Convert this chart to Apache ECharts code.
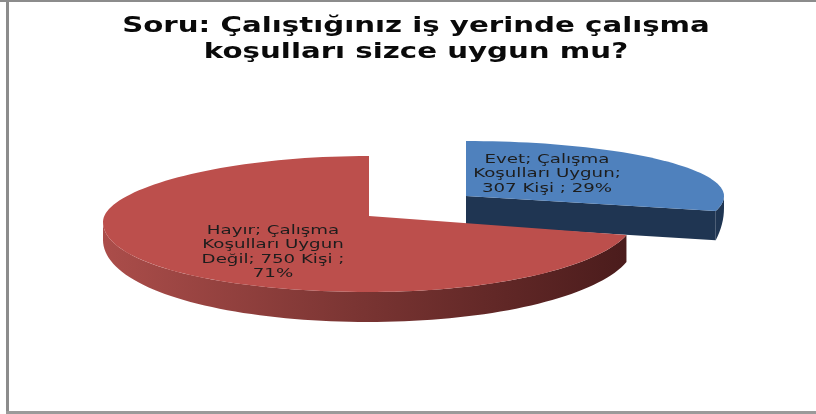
<!DOCTYPE html>
<html>
<head>
<meta charset="utf-8">
<style>
  html, body { margin: 0; padding: 0; background: #fff; }
  #chart { width: 816px; height: 414px; filter: blur(0.6px); }
</style>
<script src="https://cdn.jsdelivr.net/npm/echarts@6/dist/echarts.min.js"></script>
</head>
<body>
<div id="chart"></div>
<script>
var titleText = 'Soru: Çalıştığınız iş yerinde çalışma\nkoşulları sizce uygun mu?';
var categories = ['Evet; Çalışma\nKoşulları Uygun;', 'Hayır; Çalışma\nKoşulları Uygun\nDeğil;'];
var counts = [307, 750];
var percents = ['29%', '71%'];

// 3d look of each slice, the pie is not a real circle so it is drawn by hand
var sliceLook = [
    { cx: 466, cy: 196, rx: 258, ryTop: 55, ryBottom: 60, leftDrop: 0, depthLeft: 12, depthRight: 12, depthFront: 80, cutDepth: 29, labelX: 547, labelY: 174, top: '#4f81bd' },
    { cx: 369, cy: 216, rx: 266, ryTop: 60, ryBottom: 76, leftDrop: 6, depthLeft: 18, depthRight: 26, depthFront: 30, cutDepth: 26, labelX: 273, labelY: 252, top: '#bc4f4c' }
];

var total = counts[0] + counts[1];

function edgePoint(look, deg, down) {
    var a = deg * Math.PI / 180;
    var c = Math.cos(a);
    var s = Math.sin(a);
    var ry = c > 0 ? look.ryTop : look.ryBottom;
    var side = s < 0 ? look.depthLeft : look.depthRight;
    var d = down ? side + (look.depthFront - side) * Math.max(0, -c) : 0;
    var drop = s < 0 ? look.leftDrop * s * s : 0;
    return [look.cx + look.rx * s, look.cy - ry * c + d + drop];
}

function arcPoints(look, from, to, down) {
    var pts = [];
    var n = Math.max(2, Math.ceil(Math.abs(to - from) / 2));
    for (var i = 0; i <= n; i++) {
        pts.push(edgePoint(look, from + (to - from) * i / n, down));
    }
    return pts;
}

function renderSlice(params, api) {
    var i = params.dataIndex;
    var look = sliceLook[i];
    var before = 0;
    for (var k = 0; k < i; k++) before += counts[k];
    var start = before / total * 360;
    var end = (before + api.value(0)) / total * 360;
    var children = [];

    // outer wall, only the front half shows
    var from = Math.max(start, 90);
    var to = Math.min(end, 270);
    var wallFill = i === 0 ? '#1f3552' : new echarts.graphic.LinearGradient(103, 0, 625, 0, [
        { offset: 0, color: '#ab4d4a' },
        { offset: 0.5, color: '#793432' },
        { offset: 1, color: '#4b1c1c' }
    ], true);
    if (to > from) {
        children.push({
            type: 'polygon',
            shape: { points: arcPoints(look, from, to, false).concat(arcPoints(look, to, from, true)) },
            style: { fill: wallFill }
        });
    }
    // cut face that looks towards the viewer
    if (end < 270) {
        var outer = edgePoint(look, end, false);
        var outerLow = edgePoint(look, end, true);
        children.push({
            type: 'polygon',
            shape: { points: [[look.cx, look.cy], outer, outerLow, [look.cx, look.cy + look.cutDepth]] },
            style: { fill: wallFill }
        });
    }
    // top face
    children.push({
        type: 'polygon',
        shape: { points: [[look.cx, look.cy]].concat(arcPoints(look, start, end, false)) },
        style: { fill: look.top }
    });
    // the labels in the picture are stretched sideways
    children.push({
        type: 'text',
        x: look.labelX,
        y: look.labelY,
        scaleX: 1.4,
        style: {
            text: categories[i] + (i === 0 ? '\n' : ' ') + counts[i] + ' Kişi ;' + (i === 0 ? ' ' : '\n') + percents[i],
            font: '13px "DejaVu Sans"',
            lineHeight: 14.5,
            fill: '#1d1d1d',
            align: 'center',
            verticalAlign: 'middle'
        }
    });
    return { type: 'group', children: children };
}

var myChart = echarts.init(document.getElementById('chart'));
myChart.setOption({
    animation: false,
    graphic: [
        { type: 'rect', shape: { x: 0, y: 0, width: 816, height: 2 }, style: { fill: '#8c8c8c' } },
        { type: 'rect', shape: { x: 6, y: 0, width: 3, height: 414 }, style: { fill: '#8c8c8c' } },
        { type: 'rect', shape: { x: 6, y: 411, width: 810, height: 3 }, style: { fill: '#9a9a9a' } },
        // title is stretched too, the title component can not do that
        {
            type: 'text',
            x: 416,
            y: 39,
            scaleX: 1.33,
            style: {
                text: titleText,
                font: 'bold 22px "DejaVu Sans"',
                lineHeight: 26,
                fill: '#0a0a0a',
                align: 'center',
                verticalAlign: 'middle'
            }
        }
    ],
    series: [{
        type: 'custom',
        coordinateSystem: 'none',
        renderItem: renderSlice,
        data: counts.map(function (c) { return [c]; })
    }]
});
</script>
</body>
</html>
